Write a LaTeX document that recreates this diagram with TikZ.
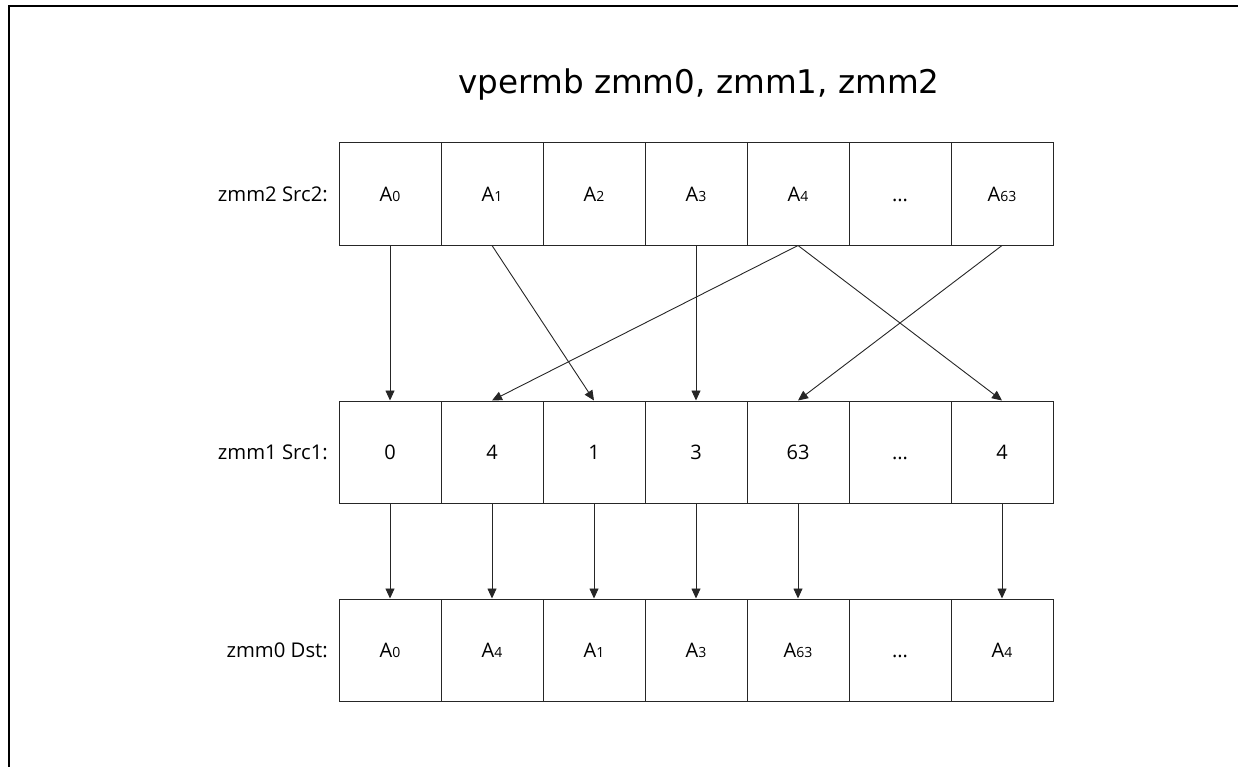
\documentclass[tikz,border=0pt]{standalone}
\usepackage{fontspec}
\setmainfont{Open Sans}
\newfontfamily\titlefont{DejaVu Sans}
\usetikzlibrary{arrows.meta}
\newcommand{\Areg}[1]{A{\fontsize{14}{14}\selectfont #1}}
\begin{document}
\begin{tikzpicture}[x=1pt,y=-1pt,
  cell/.style={draw=black!85,line width=1pt,minimum width=102pt,minimum height=102pt,inner sep=0pt,text height=14.5pt,text depth=0pt,font=\fontsize{20}{22}\selectfont},
  reglabel/.style={anchor=east,inner sep=0pt,font=\fontsize{20.3}{22}\selectfont},
  arr/.style={draw=black!85,line width=0.9pt,-{Triangle[length=10pt,width=9pt]}},
  frame/.style={line width=2pt,black}]
\useasboundingbox (0,0) rectangle (1238,767);
% frame (top and left edges only)
\coordinate (ftl) at (9,6);
\coordinate (ftr) at (1238,6);
\coordinate (fbl) at (9,767);
\draw[frame] (ftr) -- (ftl) -- (fbl);
% title
\node[font=\titlefont\fontsize{32.6}{36}\selectfont,inner sep=0pt] (title) at (699,85) {vpermb zmm0, zmm1, zmm2};
% source row (zmm2)
\node[cell] (s0) at (390,194) {\Areg{0}};
\node[cell] (s1) at (492,194) {\Areg{1}};
\node[cell] (s2) at (594,194) {\Areg{2}};
\node[cell] (s3) at (696,194) {\Areg{3}};
\node[cell] (s4) at (798,194) {\Areg{4}};
\node[cell] (s5) at (900,194) {...};
\node[cell] (s6) at (1002,194) {\Areg{63}};
% index row (zmm1)
\node[cell] (m0) at (390,452) {0};
\node[cell] (m1) at (492,452) {4};
\node[cell] (m2) at (594,452) {1};
\node[cell] (m3) at (696,452) {3};
\node[cell] (m4) at (798,452) {63};
\node[cell] (m5) at (900,452) {...};
\node[cell] (m6) at (1002,452) {4};
% destination row (zmm0)
\node[cell] (d0) at (390,650) {\Areg{0}};
\node[cell] (d1) at (492,650) {\Areg{4}};
\node[cell] (d2) at (594,650) {\Areg{1}};
\node[cell] (d3) at (696,650) {\Areg{3}};
\node[cell] (d4) at (798,650) {\Areg{63}};
\node[cell] (d5) at (900,650) {...};
\node[cell] (d6) at (1002,650) {\Areg{4}};
% row labels
\node[reglabel] (l2) at (328,194) {zmm2 Src2:};
\node[reglabel] (l1) at (328,452) {zmm1 Src1:};
\node[reglabel] (l0) at (328,650) {zmm0 Dst:};
% permutation arrows
\draw[arr] (s0.south) -- (m0.north);
\draw[arr] (s1.south) -- (m2.north);
\draw[arr] (s3.south) -- (m3.north);
\draw[arr] (s4.south) -- (m1.north);
\draw[arr] (s4.south) -- (m6.north);
\draw[arr] (s6.south) -- (m4.north);
% result arrows
\foreach \i in {0,1,2,3,4,6}{
  \draw[arr] (m\i.south) -- (d\i.north);
}
\end{tikzpicture}
\end{document}
